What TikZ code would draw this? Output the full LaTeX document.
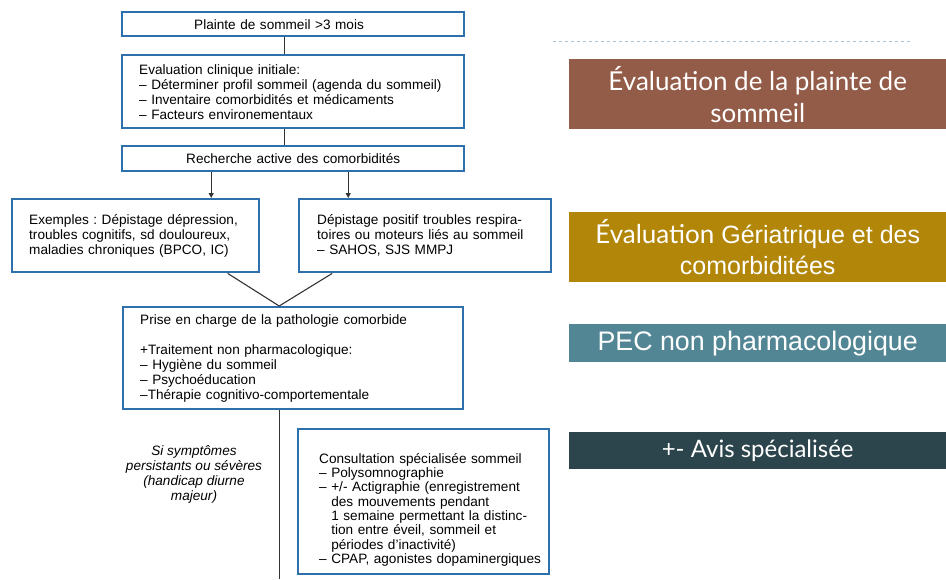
\documentclass[tikz,border=0pt]{standalone}
\usepackage{fontspec}
\setmainfont{Liberation Sans}
\newfontfamily\gillfont{Lato}
\usetikzlibrary{arrows.meta,positioning,calc}

\definecolor{boxblue}{RGB}{46,112,172}
\definecolor{brun}{RGB}{147,92,73}
\definecolor{ocre}{RGB}{178,134,8}
\definecolor{sarcelle}{RGB}{82,134,148}
\definecolor{ardoise}{RGB}{44,68,75}
\definecolor{pointille}{RGB}{170,192,214}

\begin{document}
\frenchspacing
\begin{tikzpicture}[
    x=1pt, y=-1pt,
    box/.style={draw=boxblue, line width=2.4pt, inner xsep=17pt, inner ysep=0pt, anchor=north west, font=\fontsize{13.6}{15}\selectfont},
    lien/.style={draw=black!80, line width=1.1pt},
    fleche/.style={lien, -{Triangle[length=5pt,width=5pt]}},
    bandeau/.style={anchor=north west, inner sep=0pt, text=white, align=center, minimum width=377pt},
]
\useasboundingbox (0,0) rectangle (946,579);

% Flowchart boxes
\node[box, align=left, text width=308pt, minimum height=24pt] (plainte) at (121,11) {\hspace*{55pt}Plainte de sommeil >3 mois};
\node[box, align=left, text width=308pt, minimum height=73pt] (eval) at (121,54) {Evaluation clinique initiale:\\– Déterminer profil sommeil (agenda du sommeil)\\– Inventaire comorbidités et médicaments\\– Facteurs environementaux};
\node[box, align=center, text width=308pt, minimum height=25pt] (recherche) at (121,145) {Recherche active des comorbidités};

% Two screening branches
\node[box, align=left, text width=213pt, minimum height=73pt] (gauche) at (11,198) {Exemples : Dépistage dépression,\\troubles cognitifs, sd douloureux,\\maladies chroniques (BPCO, IC)};
\node[box, align=left, text width=216pt, minimum height=73pt, inner xsep=18pt] (droite) at (298,198) {Dépistage positif troubles respira-\\toires ou moteurs liés au sommeil\\– SAHOS, SJS MMPJ};

% Management
\node[box, align=left, text width=306pt, minimum height=102pt] (prise) at (122,306) {Prise en charge de la pathologie comorbide\\[15pt]+Traitement non pharmacologique:\\– Hygiène du sommeil\\– Psychoéducation\\–Thérapie cognitivo-comportementale};

% Specialist consultation
\node[font=\fontsize{13.6}{15}\selectfont\itshape, align=center] (condition) at (194,474) {Si symptômes\\persistants ou sévères\\(handicap diurne\\majeur)};
\node[box, align=left, text width=240pt, minimum height=145pt, inner xsep=5.5pt, font=\fontsize{13.6}{14.3}\selectfont] (consult) at (297,428) {\leftskip=15.5pt\rule{0pt}{26pt}Consultation spécialisée sommeil\\– Polysomnographie\\– +/- Actigraphie (enregistrement\\\phantom{– }des mouvements pendant\\\phantom{– }1 semaine permettant la distinc-\\\phantom{– }tion entre éveil, sommeil et\\\phantom{– }périodes d’inactivité)\\– CPAP, agonistes dopaminergiques\par};
\coordinate (fin) at (278,579);

% Connectors
\draw[lien] ([xshift=-9pt]plainte.south) -- ([xshift=-9pt]eval.north);
\draw[lien] ([xshift=-9pt]eval.south) -- ([xshift=-9pt]recherche.north);
\draw[fleche] ([xshift=-82pt]recherche.south) -- ([xshift=-82pt]recherche.south |- gauche.north);
\draw[fleche] ([xshift=55pt]recherche.south) -- ([xshift=55pt]recherche.south |- droite.north);
\draw[lien] ([xshift=92pt]gauche.south) -- ([xshift=-14pt]prise.north);
\draw[lien] ([xshift=-93pt]droite.south) -- ([xshift=-14pt]prise.north);
\draw[lien] ([xshift=-14pt]prise.south) -- ([xshift=-14pt]prise.south |- fin);

% Side banners
\coordinate (tiretA) at (553,41);
\coordinate (tiretB) at (910,41);
\draw[pointille, line width=0.8pt, dash pattern=on 3pt off 3pt] (tiretA) -- (tiretB);
\node[bandeau, fill=brun, minimum height=70pt, font=\gillfont\fontsize{26}{32}\selectfont] (etape1) at (569,59) {Évaluation de la plainte de\\sommeil};
\node[bandeau, fill=ocre, minimum height=70pt, font=\fontsize{25}{31}\selectfont] (etape2) at (569,212) {{\gillfont\fontsize{26}{31}\selectfont Évaluation} Gériatrique et des\\comorbiditées};
\node[bandeau, fill=sarcelle, minimum height=38pt, font=\fontsize{26.8}{30}\selectfont] (etape3) at (569,324) {PEC non pharmacologique};
\node[bandeau, fill=ardoise, minimum height=37pt, font=\gillfont\fontsize{24}{30}\selectfont] (etape4) at (569,432) {+- Avis spécialisée};

\end{tikzpicture}
\end{document}
